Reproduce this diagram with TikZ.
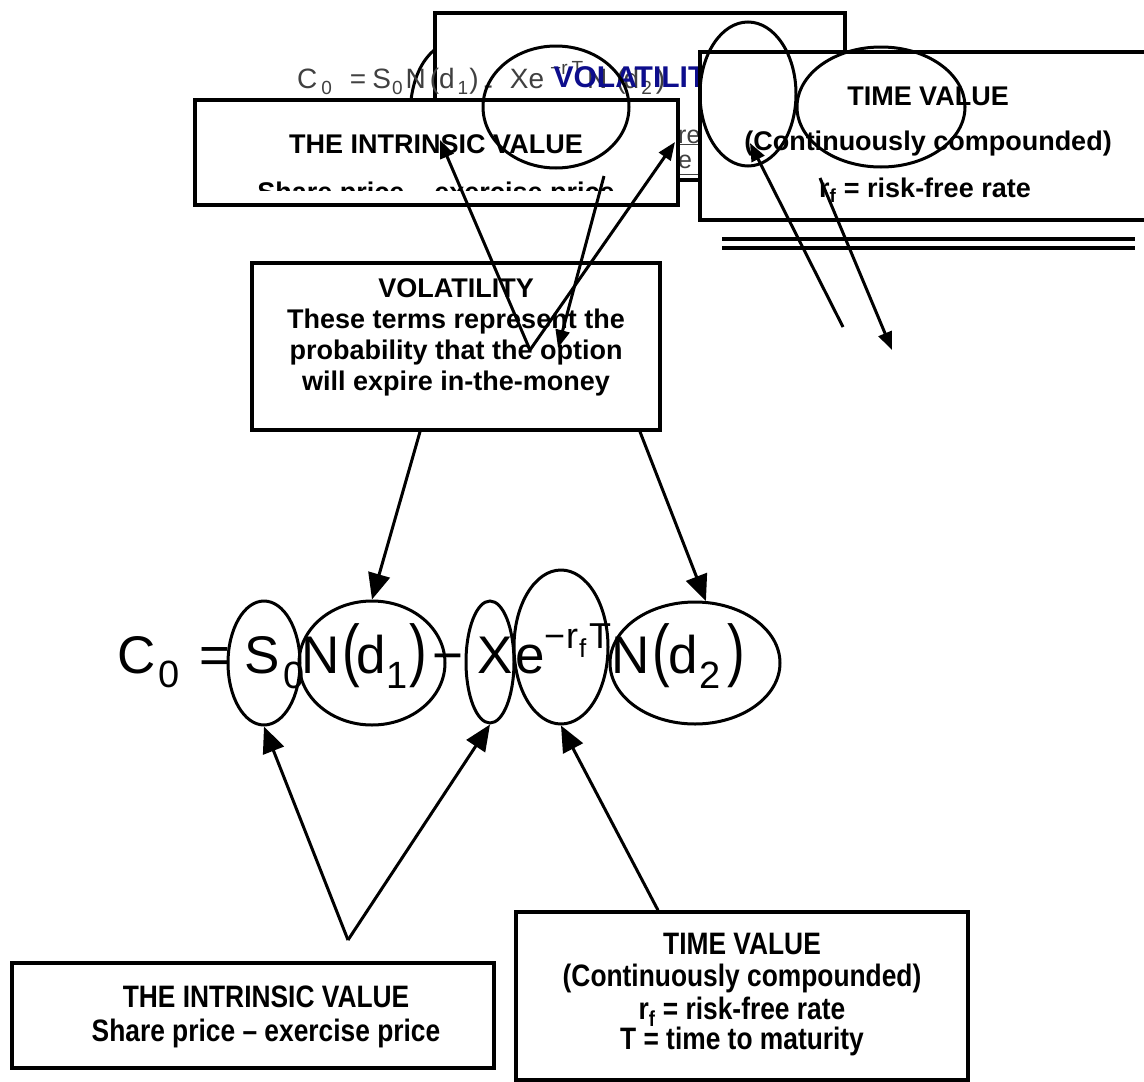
\documentclass[tikz,border=0pt]{standalone}
\usepackage{fontspec}
\setmainfont{Liberation Sans}
\newfontfamily\narrowsf[FakeStretch=0.85]{Liberation Sans}
\usetikzlibrary{arrows.meta,shapes.geometric}
\definecolor{ghost}{rgb}{0.25,0.25,0.25}
\definecolor{navy}{rgb}{0.05,0.05,0.55}
\newcommand{\gsub}[1]{\raisebox{-6pt}{\fontsize{19}{19}\selectfont #1}}
\newcommand{\tallparen}[1]{\scalebox{1}[1.3]{#1}}
\tikzstyle{box}=[rectangle,draw=black,fill=white,line width=3.5pt,inner sep=0pt]
\tikzstyle{ring}=[ellipse,draw=black,line width=3pt,inner sep=0pt]
\tikzstyle{inarrow}=[-{Triangle[length=26pt,width=22pt]},line width=3pt]
\tikzstyle{smallarrow}=[-{Triangle[length=18pt,width=14pt]},line width=3pt]
\tikzstyle{none}=[inner sep=0pt]
\tikzstyle{boxtext}=[inner sep=0pt,anchor=base,font=\bfseries\fontsize{27}{27}\selectfont]
\tikzstyle{narrowtext}=[inner sep=0pt,anchor=base,font=\narrowsf\bfseries\fontsize{31}{31}\selectfont]
\tikzstyle{term}=[inner sep=0pt,anchor=base west,font=\fontsize{53}{53}\selectfont]
\tikzstyle{subterm}=[inner sep=0pt,anchor=base west,font=\fontsize{38}{38}\selectfont]
\tikzstyle{supterm}=[inner sep=0pt,anchor=base west,font=\fontsize{36}{36}\selectfont]

\begin{document}
\begin{tikzpicture}[x=1pt,y=-1pt]
	\useasboundingbox (0,0) rectangle (1144,1082);
	\clip (0,0) rectangle (1144,1082);
	% ghost copy at the top
	\draw [line width=3pt] (411,100) .. controls (414,76) and (423,58) .. (437,48);
	\node [style=box, minimum width=410pt, minimum height=167pt] (VBtop) at (640,96.5) {};
	\begin{scope}
		\clip (678,100) rectangle (700,180);
		\node [style=none, anchor=base west, text=ghost, font=\fontsize{25}{25}\selectfont] (frag1) at (678,143) {\underline{re}};
		\node [style=none, anchor=base west, text=ghost, font=\fontsize{25}{25}\selectfont] (frag2) at (678,168) {\underline{e (}};
	\end{scope}
	\node [style=none, anchor=base west, text=ghost, font=\fontsize{28}{28}\selectfont] (Ftop) at (297,88)
		{C\kern4pt\gsub{0}\kern18pt=\kern6pt S\kern1pt\gsub{0}\kern3pt N\kern4pt(d\kern3pt\gsub{1}\kern1pt)\kern5pt\raisebox{-6pt}{-}\kern17pt Xe\kern6pt\raisebox{14pt}{\fontsize{19}{19}\selectfont −r\kern4pt T}\kern4pt N\kern9pt(\kern-2pt d\kern2pt\gsub{2}\kern4pt)};
	\node [style=none, anchor=base, text=navy, font=\bfseries\fontsize{30}{30}\selectfont] (Vtop) at (640,87) {VOLATILITY};
	\node [style=box, minimum width=483pt, minimum height=105pt] (IBtop) at (436.5,152.5) {};
	\begin{scope}
		\clip (195,100) rectangle (678,190);
		\node [style=boxtext] (IBtop1) at (436,153) {THE INTRINSIC VALUE};
		\node [style=boxtext] (IBtop2) at (436,201) {Share price – exercise price};
	\end{scope}
	\node [style=box, minimum width=452pt, minimum height=168pt] (TVtop) at (926,136) {};
	\node [style=boxtext] (TVtop1) at (928,105) {TIME VALUE};
	\node [style=boxtext] (TVtop2) at (928,150) {(Continuously compounded)};
	\node [style=boxtext] (TVtop3) at (925,197) {r\textsubscript{f} = risk-free rate};
	\node [style=ring, minimum width=146pt, minimum height=122pt] (Etop1) at (556,107) {};
	\node [style=ring, minimum width=96pt, minimum height=144pt] (Etop2) at (748,94) {};
	\node [style=ring, minimum width=168pt, minimum height=120pt] (Etop3) at (881,107) {};
	\draw [line width=4pt] (722,239) -- (1135,239);
	\draw [line width=4pt] (722,248) -- (1135,248);
	% volatility box
	\node [style=box, minimum width=408pt, minimum height=167pt] (VB) at (456,346.5) {};
	\node [style=boxtext] (VB1) at (456,297) {VOLATILITY};
	\node [style=boxtext] (VB2) at (456,328) {These terms represent the};
	\node [style=boxtext] (VB3) at (456,359) {probability that the option};
	\node [style=boxtext] (VB4) at (456,390) {will expire in-the-money};
	% arrows of the ghost copy
	\coordinate (topV) at (530,350);
	\coordinate (tipA) at (440,140);
	\coordinate (tipB) at (675,142);
	\coordinate (fromC) at (604,176);
	\coordinate (tipC) at (558,348);
	\coordinate (fromD) at (843,327);
	\coordinate (tipD) at (750,143);
	\coordinate (fromE) at (820,178);
	\coordinate (tipE) at (892,350);
	\draw [style=smallarrow] (topV) to (tipA);
	\draw [style=smallarrow] (topV) to (tipB);
	\draw [style=smallarrow] (fromC) to (tipC);
	\draw [style=smallarrow] (fromD) to (tipD);
	\draw [style=smallarrow] (fromE) to (tipE);
	% the formula
	\node [style=term] (C) at (117,673) {C};
	\node [style=subterm] (C0) at (158,687) {0};
	\node [style=term] (eq) at (199,673) {=};
	\node [style=term] (S) at (244,673) {S};
	\node [style=subterm] (S0) at (283,688) {0};
	\node [style=term] (N1) at (301,673) {N};
	\node [style=term] (lp1) at (342,673) {\tallparen{(}};
	\node [style=term] (d1) at (356,673) {d};
	\node [style=subterm] (one) at (386,688) {1};
	\node [style=term] (rp1) at (409,673) {\tallparen{)}};
	\node [style=term] (minus) at (432,673) {−};
	\node [style=term] (X) at (477,673) {X};
	\node [style=term] (e) at (515,673) {e};
	\node [style=supterm] (supminus) at (544,648) {−};
	\node [style=supterm] (r) at (566,648) {r};
	\node [style=none, anchor=base west, font=\fontsize{26}{26}\selectfont] (f) at (579,657) {f};
	\node [style=supterm] (T) at (589,648) {T};
	\node [style=term] (N2) at (611,673) {N};
	\node [style=term] (lp2) at (652,673) {\tallparen{(}};
	\node [style=term] (d2) at (668,673) {d};
	\node [style=subterm] (two) at (699,688) {2};
	\node [style=term] (rp2) at (727,673) {\tallparen{)}};
	\node [style=ring, minimum width=72pt, minimum height=124pt] (s0ell) at (264,663) {};
	\node [style=ring, minimum width=146pt, minimum height=124pt] (nd1ell) at (372,663) {};
	\node [style=ring, minimum width=48pt, minimum height=122pt] (xell) at (490,662) {};
	\node [style=ring, minimum width=94pt, minimum height=154pt] (eell) at (561,647) {};
	\node [style=ring, minimum width=170pt, minimum height=122pt] (nd2ell) at (695,663) {};
	\draw [style=inarrow] ([xshift=-36pt]VB.south) to (nd1ell.north);
	\draw [style=inarrow] ([xshift=184pt]VB.south) to (nd2ell.80);
	% lower boxes
	\node [style=box, minimum width=482pt, minimum height=105pt] (IB) at (253,1015.5) {};
	\node [style=narrowtext] (IB1) at (266,1007) {THE INTRINSIC VALUE};
	\node [style=narrowtext] (IB2) at (266,1041) {Share price – exercise price};
	\node [style=box, minimum width=452pt, minimum height=168pt] (TV) at (742,996) {};
	\node [style=narrowtext] (TV1) at (742,954) {TIME VALUE};
	\node [style=narrowtext] (TV2) at (742,986) {(Continuously compounded)};
	\node [style=narrowtext] (TV3) at (742,1019) {r\textsubscript{f} = risk-free rate};
	\node [style=narrowtext] (TV4) at (742,1049) {T = time to maturity};
	\coordinate (vpoint) at (348,940);
	\draw [style=inarrow] (vpoint) to (s0ell.south);
	\draw [style=inarrow] (vpoint) to (xell.south);
	\draw [style=inarrow] ([xshift=-84pt]TV.north) to (eell.south);
\end{tikzpicture}
\end{document}
